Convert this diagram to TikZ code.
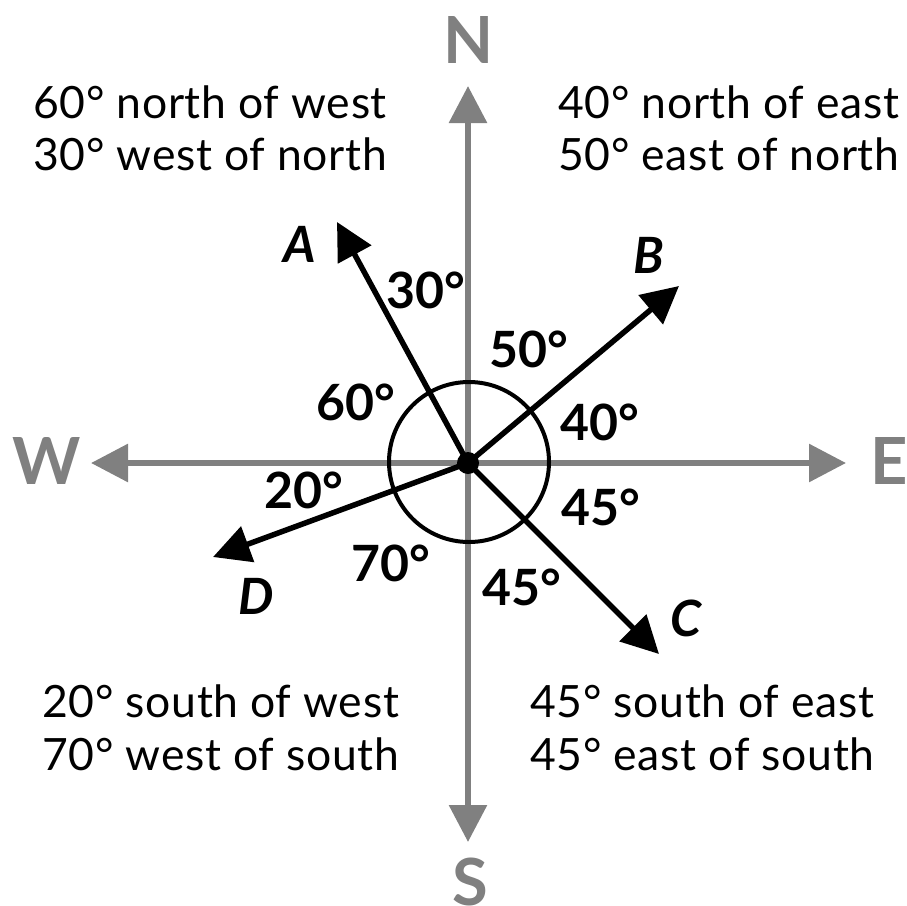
\documentclass[tikz,border=0pt]{standalone}
\usepackage{fontspec}
\setmainfont{Lato}
\usetikzlibrary{arrows.meta}
\definecolor{axisgray}{HTML}{808080}
\tikzset{
  axisline/.style={draw=axisgray, line width=6pt, {Triangle[length=37pt,width=37pt]}-{Triangle[length=37pt,width=37pt]}},
  vec/.style={draw=black, line width=5.5pt, -{Triangle[length=37pt,width=37pt]}},
  dirlabel/.style={text=axisgray, font=\fontsize{65}{70}\selectfont\bfseries, inner sep=0pt},
  veclabel/.style={font=\fontsize{50}{55}\selectfont\bfseries\itshape, inner sep=0pt},
  anglabel/.style={font=\fontsize{50}{55}\selectfont\bfseries, inner sep=0pt},
  desc/.style={font=\fontsize{44.5}{52}\selectfont\addfontfeature{LetterSpace=1.5}, inner sep=0pt, anchor=base west},
}
\begin{document}
\begin{tikzpicture}[x=1pt,y=-1pt]
\useasboundingbox (0,0) rectangle (907,905);
\coordinate (O) at (468,463);
\coordinate (Ntip) at (468,86);
\coordinate (Stip) at (468,842);
\coordinate (Wtip) at (91,463);
\coordinate (Etip) at (846,463);
\coordinate (Atip) at (337,222);
\coordinate (Btip) at (679,286);
\coordinate (Ctip) at (659,654);
\coordinate (Dtip) at (213,557);
% axes
\draw[axisline] (Wtip) -- (Etip);
\draw[axisline] (Stip) -- (Ntip);
% circle
\draw[line width=4pt] (469,462) circle[radius=80pt];
% vectors
\draw[vec] (O) -- (Atip);
\draw[vec] (O) -- (Btip);
\draw[vec] (O) -- (Ctip);
\draw[vec] (O) -- (Dtip);
\fill (O) circle[radius=11pt];
% direction letters
\node[dirlabel] (N) at (469,40) {N};
\node[dirlabel] (S) at (470,882) {S};
\node[dirlabel] (W) at (47,461) {W};
\node[dirlabel] (E) at (889,461) {E};
% vector letters
\node[veclabel] (A) at (300,244) {A};
\node[veclabel] (B) at (649,255) {B};
\node[veclabel] (C) at (686,618) {C};
\node[veclabel] (D) at (256,596) {D};
% angle labels
\node[anglabel] (a30) at (426,290) {30°};
\node[anglabel] (a50) at (529,349) {50°};
\node[anglabel] (a60) at (356,402) {60°};
\node[anglabel] (a40) at (600,422) {40°};
\node[anglabel] (a20) at (304,490) {20°};
\node[anglabel] (a45r) at (601,507) {45°};
\node[anglabel] (a70) at (391,563) {70°};
\node[anglabel] (a45b) at (522,587) {45°};
% descriptions
\node[desc] (tl1) at (33,118) {60° north of west};
\node[desc] (tl2) at (33,170) {30° west of north};
\node[desc] (tr1) at (558,118) {40° north of east};
\node[desc] (tr2) at (558,170) {50° east of north};
\node[desc] (bl1) at (42,717) {20° south of west};
\node[desc] (bl2) at (42,770) {70° west of south};
\node[desc] (br1) at (530,717) {45° south of east};
\node[desc] (br2) at (530,770) {45° east of south};
\end{tikzpicture}
\end{document}
